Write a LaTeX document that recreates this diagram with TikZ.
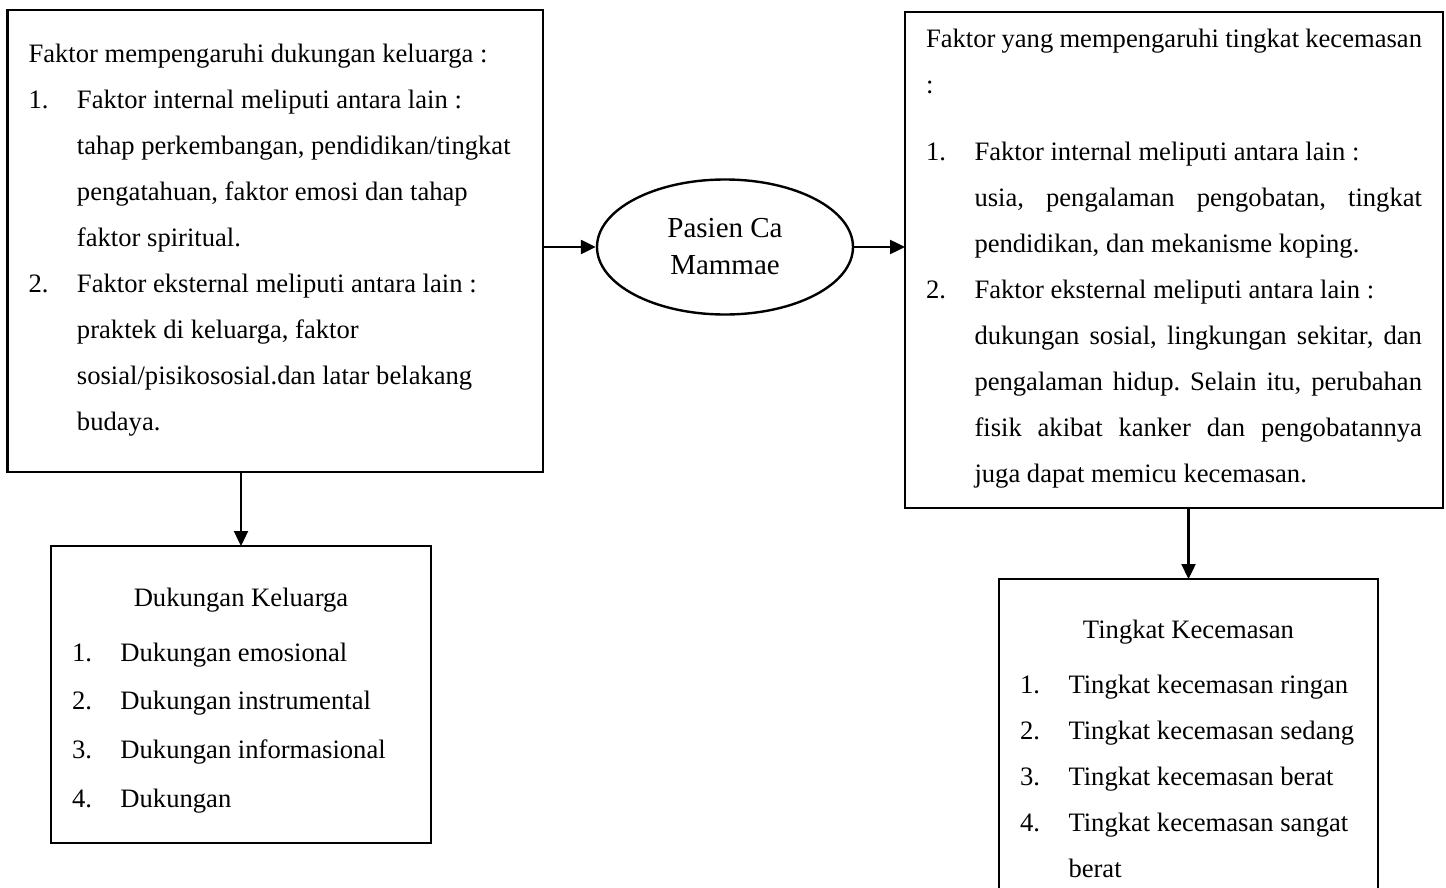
\documentclass[tikz,border=0pt]{standalone}
\usepackage{fontspec}
\setmainfont{Liberation Serif}
\usetikzlibrary{arrows.meta,shapes.geometric}
\frenchspacing
\newlength{\numw}\setlength{\numw}{24.25pt}
\newlength{\jw}\setlength{\jw}{223.75pt}
\newcommand{\natsp}{\spaceskip=0pt\relax\xspaceskip=0pt\relax}
\newcommand{\txtln}[1]{\mbox{\natsp#1}}
\newcommand{\itemno}[2]{\makebox[\numw][l]{#1}\mbox{\natsp#2}}
\newcommand{\indln}[1]{\hspace*{\numw}\mbox{\natsp#1}}
\newcommand{\jline}[1]{\hspace*{\numw}\makebox[\jw][s]{\natsp#1}}
\newcommand{\ctrline}[1]{\makebox[\linewidth]{\natsp#1}}
\begin{document}
\begin{tikzpicture}[x=0.5pt,y=-0.5pt,
    box/.style={draw,rectangle,anchor=north west,align=left,inner xsep=10.5pt,
      inner ysep=0pt,outer sep=0pt,font=\fontsize{13.3pt}{23pt}\selectfont},
    bigbox/.style={box,line width=1.4pt},
    smallbox/.style={box,line width=1.1pt},
    arr/.style={-{Triangle[length=7.5pt,width=7pt]},line width=1.2pt}]
  \useasboundingbox (0,0) rectangle (1446,888);
  \draw
    (7.5,10) node[bigbox,text width=246.75pt,text height=26.5pt,text depth=204.5pt] (lbox)
      {\txtln{Faktor mempengaruhi dukungan keluarga :}\\
       \itemno{1.}{Faktor internal meliputi antara lain :}\\
       \indln{tahap perkembangan, pendidikan/tingkat}\\
       \indln{pengatahuan, faktor emosi dan tahap}\\
       \indln{faktor spiritual.}\\
       \itemno{2.}{Faktor eksternal meliputi antara lain :}\\
       \indln{praktek di keluarga, faktor}\\
       \indln{sosial/pisikososial.dan latar belakang}\\
       \indln{budaya.}}
    (725,247) node[ellipse,draw,line width=1.2pt,minimum width=128pt,minimum height=67.5pt,
      inner sep=0pt,align=center,font=\fontsize{14.5pt}{18.5pt}\selectfont] (pbox)
      {Pasien Ca\\Mammae}
    (905,12) node[bigbox,text width=248pt,text height=18pt,text depth=230pt] (rbox)
      {\makebox[\linewidth][s]{\natsp Faktor yang mempengaruhi tingkat kecemasan}\\
       :\\[10.5pt]
       \itemno{1.}{Faktor internal meliputi antara lain :}\\
       \jline{usia, pengalaman pengobatan, tingkat}\\
       \indln{pendidikan, dan mekanisme koping.}\\
       \itemno{2.}{Faktor eksternal meliputi antara lain :}\\
       \jline{dukungan sosial, lingkungan sekitar, dan}\\
       \jline{pengalaman hidup. Selain itu, perubahan}\\
       \jline{fisik akibat kanker dan pengobatannya}\\
       \indln{juga dapat memicu kecemasan.}}
    (51,546) node[smallbox,text width=169pt,text height=30pt,text depth=118.5pt,
      font=\fontsize{13.3pt}{24.35pt}\selectfont] (kbox)
      {\ctrline{Dukungan Keluarga}\\[3.15pt]
       \itemno{1.}{Dukungan emosional}\\
       \itemno{2.}{Dukungan instrumental}\\
       \itemno{3.}{Dukungan informasional}\\
       \itemno{4.}{Dukungan}}
    (999,579) node[smallbox,text width=168.5pt,text height=29.5pt,text depth=133.5pt] (tbox)
      {\ctrline{Tingkat Kecemasan}\\[4.5pt]
       \itemno{1.}{Tingkat kecemasan ringan}\\
       \itemno{2.}{Tingkat kecemasan sedang}\\
       \itemno{3.}{Tingkat kecemasan berat}\\
       \itemno{4.}{Tingkat kecemasan sangat}\\
       \indln{berat}};
  \begin{scope}[arr]
    \draw (lbox.east |- pbox.west) to (pbox.west);
    \draw (pbox.east) to (rbox.west |- pbox.east);
    \draw (kbox.north |- lbox.south) to (kbox.north);
    \draw (tbox.north |- rbox.south) to (tbox.north);
  \end{scope}
\end{tikzpicture}
\end{document}
